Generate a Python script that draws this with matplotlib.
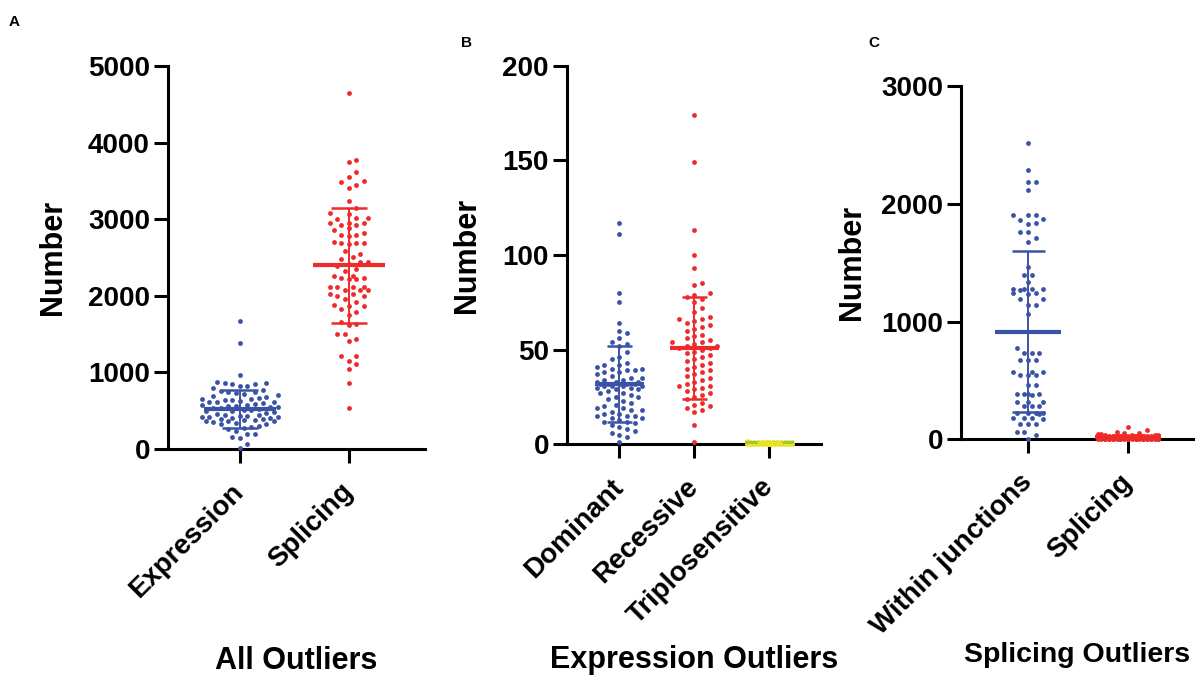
import numpy as np
import matplotlib
matplotlib.use('Agg')
import matplotlib.pyplot as plt

plt.rcParams['font.family'] = ['Liberation Sans', 'DejaVu Sans']
plt.rcParams['font.weight'] = 'bold'

BLUE = '#3A53A4'
RED = '#EE2A2A'
YELLOW = '#EEE51E'

# ---- panel A: All Outliers ----
cats_a = ['Expression', 'Splicing']
expression_all = [1670, 1390, 965, 880, 865, 860, 855, 850, 825, 820, 790, 770, 760,
                  750, 740, 730, 720, 700, 690, 680, 660, 655, 650, 645, 640, 630, 620,
                  615, 610, 600, 590, 580, 570, 560, 555, 550, 545, 540, 530, 520, 510,
                  505, 500, 490, 480, 470, 460, 450, 440, 430, 425, 420, 420, 415, 410,
                  400, 395, 390, 385, 380, 370, 365, 360, 350, 340, 330, 320, 300, 290,
                  280, 260, 240, 200, 190, 155, 150, 60, 15]
splicing_all = [4650, 3770, 3745, 3610, 3545, 3500, 3485, 3450, 3405, 3235, 3140,
                3075, 3070, 3020, 3015, 3000, 2955, 2950, 2945, 2930, 2925, 2890, 2860,
                2825, 2795, 2790, 2785, 2700, 2695, 2690, 2685, 2680, 2590, 2545, 2510,
                2480, 2445, 2440, 2420, 2390, 2350, 2325, 2265, 2260, 2230, 2228, 2225,
                2220, 2120, 2118, 2115, 2112, 2075, 2072, 2070, 2030, 2028, 2000, 1995,
                1955, 1920, 1875, 1872, 1870, 1825, 1790, 1745, 1660, 1628, 1625, 1500,
                1498, 1432, 1410, 1215, 1212, 1150, 1105, 1040, 865, 540]
mean_a = [520, 2400]
sd_a = [250, 750]

# ---- panel B: Expression Outliers ----
cats_b = ['Dominant', 'Recessive', 'Triplosensitive']
dominant = [117, 111, 80, 75, 64, 60, 59, 56, 54, 53, 52, 49, 46, 45, 43, 42, 42, 41,
            40, 40, 39, 39, 38, 38, 37, 36, 35, 35, 34, 34, 33, 33, 33, 32, 32, 32, 32,
            32, 31, 31, 31, 31, 30, 30, 29, 29, 28, 27, 27, 26, 25, 25, 24, 23, 22, 21,
            20, 19, 19, 18, 18, 17, 16, 16, 15, 15, 15, 14, 14, 13, 12, 12, 11, 10, 9,
            8, 7, 6, 5, 4, 1]
recessive = [174, 149, 113, 100, 93, 85, 84, 80, 79, 78, 77, 75, 72, 70, 67, 66, 66,
             65, 64, 63, 62, 61, 60, 58, 57, 56, 55, 54, 54, 53, 52, 52, 51, 51, 50, 49,
             48, 47, 46, 45, 44, 43, 42, 41, 40, 39, 38, 37, 36, 35, 34, 33, 32, 31, 31,
             30, 29, 28, 27, 26, 25, 24, 22, 21, 20, 19, 18, 17, 10, 1]
triplosensitive = [2, 1, 1, 1, 1, 1, 1, 1, 1, 1, 1, 1, 1, 0, 0, 0, 0, 0, 0, 0, 0, 0,
                   0, 0, 0, 0, 0, 0, 0, 0, 0, 0, 0, 0, 0, 0, 0, 0, 0, 0, 0, 0, 0, 0, 0,
                   0, 0, 0, 0, 0, 0, 0, 0, 0, 0, 0, 0, 0, 0, 0]
mean_b = [32, 51, 0.5]
sd_b = [20, 27, 0.6]

# ---- panel C: Splicing Outliers ----
cats_c = ['Within junctions', 'Splicing']
within_junctions = [2518, 2286, 2187, 2185, 2116, 1906, 1904, 1902, 1868, 1866, 1834,
                    1832, 1763, 1761, 1712, 1677, 1460, 1395, 1393, 1338, 1276, 1275,
                    1274, 1273, 1272, 1240, 1239, 1238, 1191, 1190, 1140, 1139, 1064,
                    772, 731, 730, 729, 674, 673, 672, 575, 574, 573, 546, 545, 544, 462,
                    461, 384, 383, 382, 381, 380, 320, 319, 318, 284, 283, 282, 223, 222,
                    221, 220, 219, 179, 178, 177, 176, 128, 127, 126, 66, 64, 34, 5]
splicing_junc = [104, 80, 65, 55, 50, 45, 42, 40, 38, 35, 33, 30, 30, 28, 27, 25, 25,
                 24, 22, 22, 20, 20, 19, 18, 18, 17, 16, 15, 15, 14, 14, 13, 12, 12, 11,
                 10, 10, 9, 9, 8, 8, 7, 7, 6, 6, 5, 5, 5, 4, 4, 3, 3, 3, 2, 2, 2, 1, 1,
                 1, 0, 0, 0, 0, 0, 0, 0, 0, 0, 0, 0]
mean_c = [913, 20]
sd_c = [682, 20]


def swarm_offsets(values, d, max_w, px_per_unit):
    """column scatter layout in pixel space, returns x offsets in px"""
    ys = np.asarray(values, float) * px_per_unit
    order = np.argsort(ys, kind='stable')
    cands = [0.0]
    s = d / 2
    while s <= max_w + 1e-6:
        cands += [s, -s]
        s += d / 2
    px, py = [], []
    offs = np.zeros(len(ys))
    for i in order:
        y = ys[i]
        pick = None
        fallback, fb_dist = 0.0, -1.0
        for c in cands:
            if not px:
                pick = c
                break
            dist = np.min(np.hypot(np.array(px) - c, np.array(py) - y))
            if dist >= d * 0.97:
                pick = c
                break
            if dist > fb_dist:
                fb_dist, fallback = dist, c
        if pick is None:
            pick = fallback
        offs[i] = pick
        px.append(pick)
        py.append(y)
    return offs


def column_plot(ax, groups, colors, means, sds, max_ws, mean_colors=None):
    sx = abs(ax.transData.transform((1, 0))[0] - ax.transData.transform((0, 0))[0])
    sy = abs(ax.transData.transform((0, 1))[1] - ax.transData.transform((0, 0))[1])
    for k, vals in enumerate(groups):
        offs = swarm_offsets(vals, 7.6, max_ws[k], sy) / sx
        ax.scatter(k + offs, vals, s=12, color=colors[k], linewidths=0,
                   zorder=3, clip_on=False)
        mc = colors[k] if mean_colors is None else mean_colors[k]
        m, sd = means[k], sds[k]
        ax.hlines(m, k - 0.33, k + 0.33, color=mc, lw=3.0, zorder=4)
        ax.vlines(k, m - sd, m + sd, color=colors[k], lw=1.4, zorder=4)
        ax.hlines([m - sd, m + sd], k - 0.165, k + 0.165, color=colors[k], lw=1.8, zorder=4)


def style_axis(ax, cats, yticks):
    for sp in ['top', 'right']:
        ax.spines[sp].set_visible(False)
    for sp in ['left', 'bottom']:
        ax.spines[sp].set_linewidth(2.2)
    ax.tick_params(axis='both', direction='out', length=10, width=2.2, labelsize=20)
    ax.tick_params(axis='y', pad=3)
    ax.tick_params(axis='x', pad=18)
    ax.set_yticks(yticks)
    ax.set_xticks(range(len(cats)))
    ax.set_xticklabels(cats, rotation=45, ha='right', va='center',
                       rotation_mode='anchor', fontsize=20)
    ax.set_ylabel('Number', fontsize=22, fontweight='bold')


fig = plt.figure(figsize=(11.98, 6.8), dpi=100)

# A
ax_a = fig.add_axes([168 / 1198, 1 - 449 / 680, 257 / 1198, 383 / 680])
ax_a.set_xlim(-0.66, 1.70)
ax_a.set_ylim(0, 5000)
style_axis(ax_a, cats_a, range(0, 5001, 1000))
column_plot(ax_a, [expression_all, splicing_all], [BLUE, RED], mean_a, sd_a, [38, 20])
ax_a.yaxis.set_label_coords(-0.389, 0.5)

# B
ax_b = fig.add_axes([567 / 1198, 1 - 444.3 / 680, 254 / 1198, 378.6 / 680])
ax_b.set_xlim(-0.70, 2.69)
ax_b.set_ylim(0, 200)
style_axis(ax_b, cats_b, range(0, 201, 50))
column_plot(ax_b, [dominant, recessive, triplosensitive], [BLUE, RED, YELLOW],
            mean_b, sd_b, [25, 25, 23], mean_colors=[BLUE, RED, '#9BC93C'])
ax_b.yaxis.set_label_coords(-0.335, 0.5)

# C
ax_c = fig.add_axes([961 / 1198, 1 - 439.3 / 680, 232 / 1198, 353.3 / 680])
ax_c.set_xlim(-0.67, 1.65)
ax_c.set_ylim(0, 3000)
style_axis(ax_c, cats_c, range(0, 3001, 1000))
column_plot(ax_c, [within_junctions, splicing_junc], [BLUE, RED], mean_c, sd_c, [16, 31])
ax_c.yaxis.set_label_coords(-0.405, 0.5)

# group titles and panel letters
fig.text(296.5 / 1198, 1 - 661 / 680, 'All Outliers', ha='center', va='center',
         fontsize=22, fontweight='bold')
fig.text(694 / 1198, 1 - 660 / 680, 'Expression Outliers', ha='center', va='center',
         fontsize=22, fontweight='bold')
fig.text(1077 / 1198, 1 - 655 / 680, 'Splicing Outliers', ha='center', va='center',
         fontsize=20.5, fontweight='bold')
fig.text(14 / 1198, 1 - 22 / 680, 'A', ha='center', va='center', fontsize=11,
         fontweight='bold')
fig.text(467 / 1198, 1 - 43 / 680, 'B', ha='center', va='center', fontsize=11,
         fontweight='bold')
fig.text(874 / 1198, 1 - 43 / 680, 'C', ha='center', va='center', fontsize=11,
         fontweight='bold')

fig.savefig('out.png', dpi=100)
